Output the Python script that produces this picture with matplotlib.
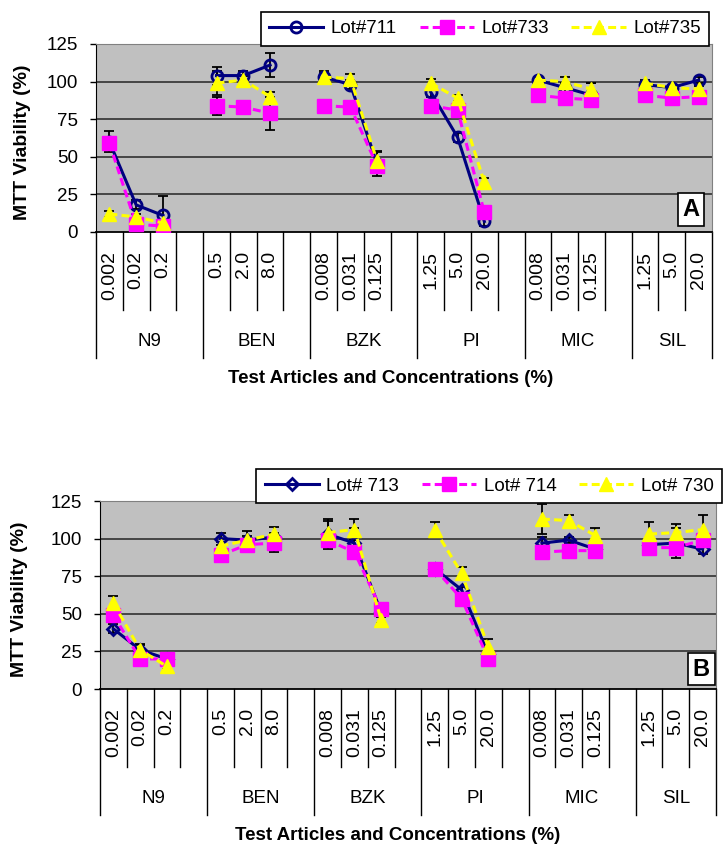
import matplotlib
matplotlib.use('Agg')
import matplotlib.pyplot as plt
import numpy as np

plt.rcParams['font.family'] = ['Liberation Sans', 'DejaVu Sans']

groups = ['N9', 'BEN', 'BZK', 'PI', 'MIC', 'SIL']
conc_labels = [['0.002', '0.02', '0.2'],
               ['0.5', '2.0', '8.0'],
               ['0.008', '0.031', '0.125'],
               ['1.25', '5.0', '20.0'],
               ['0.008', '0.031', '0.125'],
               ['1.25', '5.0', '20.0']]

# Panel A
lot711 = [60, 18, 11, 104, 104, 111, 103, 98, 45, 93, 63, 7, 101, 96, 91, 98, 96, 101]
lot711_err = [7, 3, 13, 6, 3, 8, 3, 3, 8, 3, 3, 3, 2, 3, 8, 2, 2, 2]
lot733 = [59, 5, 4, 84, 83, 79, 84, 83, 44, 84, 81, 13, 91, 89, 88, 91, 89, 90]
lot733_err = [3, 2, 2, 6, 4, 11, 2, 4, 4, 2, 3, 3, 2, 2, 4, 2, 2, 2]
lot735 = [12, 10, 6, 99, 101, 90, 103, 102, 47, 99, 89, 33, 101, 100, 95, 99, 96, 95]
lot735_err = [2, 2, 2, 8, 3, 3, 4, 3, 7, 3, 2, 3, 2, 3, 4, 2, 2, 2]

# Panel B
lot713 = [40, 26, 20, 100, 99, 101, 103, 97, 51, 80, 66, 23, 97, 99, 93, 96, 97, 93]
lot713_err = [3, 3, 2, 4, 3, 3, 10, 10, 3, 2, 2, 2, 4, 2, 6, 3, 10, 3]
lot714 = [49, 20, 20, 89, 96, 97, 99, 91, 53, 80, 60, 20, 91, 92, 92, 94, 94, 99]
lot714_err = [2, 2, 2, 2, 3, 6, 2, 4, 2, 3, 2, 2, 2, 2, 2, 2, 2, 2]
lot730 = [57, 26, 15, 95, 99, 103, 104, 106, 46, 106, 77, 28, 113, 112, 102, 103, 104, 106]
lot730_err = [5, 4, 2, 3, 6, 5, 8, 7, 2, 5, 4, 5, 10, 4, 5, 8, 6, 10]

NAVY = '#000080'
MAGENTA = '#FF00FF'
YELLOW = '#FFFF00'
N_SLOTS = 23


def slot_x(g, j):
    return g * 4 + j + 0.5


def draw_panel(ax, series, letter, letter_pos, leg_center, xlabel_x, ylab_x):
    ax.set_facecolor('#C0C0C0')
    ax.set_xlim(0, N_SLOTS)
    ax.set_ylim(0, 125)
    ax.set_yticks([0, 25, 50, 75, 100, 125])
    ax.tick_params(axis='y', labelsize=13.5, length=4, width=1, pad=9)
    ax.set_xticks([])
    for y in [25, 50, 75, 100]:
        ax.axhline(y, color='#303030', lw=1.2, zorder=1)
    for side in ['top', 'right']:
        ax.spines[side].set_color('#808080')
    ax.spines['left'].set_color('black')
    ax.spines['bottom'].set_color('black')
    ax.spines['bottom'].set_linewidth(1.3)

    handles = []
    for vals, errs, style in series:
        h = None
        for g in range(len(groups)):
            xs = [slot_x(g, j) for j in range(3)]
            ys = vals[g * 3:g * 3 + 3]
            es = errs[g * 3:g * 3 + 3]
            ax.errorbar(xs, ys, yerr=es, fmt='none', ecolor='black',
                        elinewidth=1.3, capsize=3.5, capthick=1.3, zorder=3)
            line, = ax.plot(xs, ys, zorder=4, **style)
            if h is None:
                h = line
        handles.append(h)

    # category separators below the axis
    trans = ax.get_xaxis_transform()
    for b in range(N_SLOTS + 1):
        bottom = -0.67 if (b % 4 == 0 or b == N_SLOTS) else -0.415
        ax.plot([b, b], [0, bottom], color='black', lw=1, transform=trans,
                clip_on=False)
    for g in range(len(groups)):
        for j in range(3):
            ax.text(slot_x(g, j), -0.10, conc_labels[g][j], rotation=90,
                    ha='center', va='top', fontsize=14, transform=trans)
        left = g * 4
        right = min(g * 4 + 4, N_SLOTS)
        ax.text((left + right) / 2, -0.585, groups[g], ha='center',
                va='center', fontsize=13.5, transform=trans)
    ax.text(xlabel_x, -0.78, 'Test Articles and Concentrations (%)',
            ha='center', va='center', fontsize=13.5, fontweight='bold',
            transform=trans)
    ax.text(ylab_x, 0.48, 'MTT Viability (%)', rotation=90, ha='center',
            va='center', fontsize=14, fontweight='bold', transform=ax.transAxes)

    ax.text(letter_pos[0], letter_pos[1], letter, transform=ax.transAxes,
            fontsize=17, fontweight='bold', ha='center', va='center', zorder=6,
            bbox=dict(boxstyle='square,pad=0.2', fc='white', ec='black', lw=1.2))

    leg = ax.legend(handles, [s[2]['label'] for s in series], loc='center',
                    bbox_to_anchor=leg_center, bbox_transform=fig.transFigure,
                    ncol=3, fancybox=False, edgecolor='black', framealpha=1,
                    fontsize=13.5, handlelength=2.9, handletextpad=0.4,
                    columnspacing=1.2, borderpad=0.45)
    leg.get_frame().set_linewidth(1.2)
    leg.set_zorder(10)


fig = plt.figure(figsize=(7.27, 8.56), dpi=100)
axA = fig.add_axes([96 / 727, 1 - 232 / 856, 616 / 727, 188 / 856])
axB = fig.add_axes([100 / 727, 1 - 689 / 856, 616 / 727, 188 / 856])

styleA = [
    (lot711, lot711_err, dict(color=NAVY, lw=2.2, marker='o', ms=8,
                              mfc='none', mec=NAVY, mew=2, label='Lot#711')),
    (lot733, lot733_err, dict(color=MAGENTA, lw=2.2, ls=(0, (2.6, 1.4)),
                              marker='s', ms=10, mfc=MAGENTA, mec=MAGENTA,
                              label='Lot#733')),
    (lot735, lot735_err, dict(color=YELLOW, lw=2.2, ls=(0, (2.6, 1.4)),
                              marker='^', ms=10, mfc=YELLOW, mec=YELLOW,
                              label='Lot#735')),
]
styleB = [
    (lot713, lot713_err, dict(color=NAVY, lw=2.2, marker='D', ms=6.5,
                              mfc='none', mec=NAVY, mew=2, label='Lot# 713')),
    (lot714, lot714_err, dict(color=MAGENTA, lw=2.2, ls=(0, (2.6, 1.4)),
                              marker='s', ms=10, mfc=MAGENTA, mec=MAGENTA,
                              label='Lot# 714')),
    (lot730, lot730_err, dict(color=YELLOW, lw=2.2, ls=(0, (2.6, 1.4)),
                              marker='^', ms=10, mfc=YELLOW, mec=YELLOW,
                              label='Lot# 730')),
]

draw_panel(axA, styleA, 'A', (0.966, 0.12), (485 / 727, 1 - 28.5 / 856), 11.0, -0.12)
draw_panel(axB, styleB, 'B', (0.976, 0.106), (489 / 727, 1 - 486 / 856), 11.1, -0.131)

fig.savefig('out.png', dpi=100)
